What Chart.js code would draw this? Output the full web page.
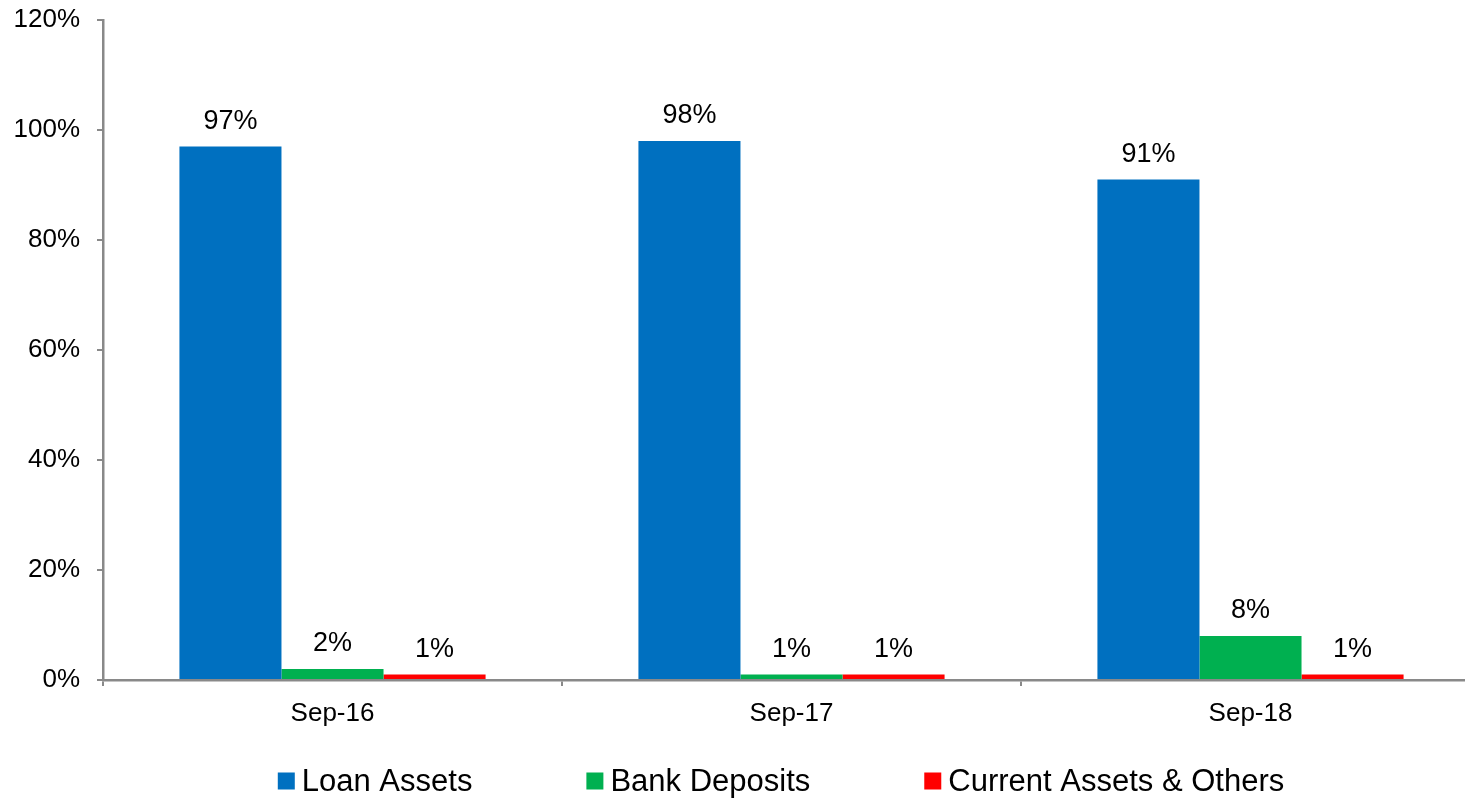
<!DOCTYPE html>
<html>
<head>
<meta charset="utf-8">
<script src="https://cdn.jsdelivr.net/npm/chart.js@4.4.1/dist/chart.umd.min.js"></script>
<style>
  html, body { margin: 0; padding: 0; overflow: hidden; background: #fff; }
  #wrap { position: absolute; left: 0; top: 0; width: 1482px; height: 801px; }
</style>
</head>
<body>
<div id="wrap"><canvas id="assetChart"></canvas></div>
<script>
var categories = ['Sep-16', 'Sep-17', 'Sep-18'];
var loanAssets = [97, 98, 91];
var bankDeposits = [2, 1, 8];
var currentAssets = [1, 1, 1];
var yTicks = [0, 20, 40, 60, 80, 100, 120];

var FONT = "'Liberation Sans', Arial, sans-serif";
var axisGrey = '#898989';

// value labels above each bar
var valueLabels = {
    id: 'valueLabels',
    afterDatasetsDraw: function (chart) {
        var ctx = chart.ctx;
        ctx.save();
        ctx.font = '27px ' + FONT;
        ctx.fillStyle = '#000';
        ctx.textAlign = 'center';
        ctx.textBaseline = 'alphabetic';
        chart.data.datasets.forEach(function (ds, i) {
            chart.getDatasetMeta(i).data.forEach(function (bar, j) {
                ctx.fillText(ds.data[j] + '%', bar.x, bar.y - 18);
            });
        });
        ctx.restore();
    }
};

// legend drawn along the bottom
var bottomLegend = {
    id: 'bottomLegend',
    afterDraw: function (chart) {
        var ctx = chart.ctx;
        var box = 17, gap = 7, spacing = 114, centerX = 781, y = 781;
        ctx.save();
        ctx.font = '31px ' + FONT;
        var widths = chart.data.datasets.map(function (ds) {
            return box + gap + ctx.measureText(ds.label).width;
        });
        var total = widths.reduce(function (a, b) { return a + b; }, 0) + spacing * (widths.length - 1);
        var x = centerX - total / 2;
        ctx.textBaseline = 'middle';
        ctx.textAlign = 'left';
        chart.data.datasets.forEach(function (ds, i) {
            ctx.fillStyle = ds.backgroundColor;
            ctx.fillRect(x, y - box / 2, box, box);
            ctx.fillStyle = '#000';
            ctx.fillText(ds.label, x + box + gap, y + 1);
            x += widths[i] + spacing;
        });
        ctx.restore();
    }
};

var assetChart = new Chart(document.getElementById('assetChart'), {
    type: 'bar',
    data: {
        labels: categories,
        datasets: [
            { label: 'Loan Assets', data: loanAssets, backgroundColor: '#0070C0' },
            { label: 'Bank Deposits', data: bankDeposits, backgroundColor: '#00B050' },
            { label: 'Current Assets & Others', data: currentAssets, backgroundColor: '#FF0000' }
        ]
    },
    options: {
        responsive: true,
        maintainAspectRatio: false,
        animation: false,
        layout: { padding: { top: 20, right: 2, bottom: 71, left: 0 } },
        datasets: { bar: { categoryPercentage: 0.667, barPercentage: 1.0 } },
        plugins: {
            legend: { display: false },
            tooltip: { enabled: false }
        },
        scales: {
            x: {
                afterFit: function (scale) { scale.height = 50; },
                grid: {
                    drawOnChartArea: false,
                    drawTicks: true,
                    tickLength: 6,
                    color: axisGrey,
                    lineWidth: 2,
                    offset: true
                },
                border: { color: axisGrey, width: 2.5 },
                ticks: {
                    color: '#000',
                    font: { family: FONT, size: 26 },
                    padding: 12,
                    maxRotation: 0
                }
            },
            y: {
                min: 0,
                max: 120,
                afterFit: function (scale) {
                    scale.width = 103;
                    scale.paddingTop = 0;
                    scale.paddingBottom = 0;
                },
                afterBuildTicks: function (scale) {
                    scale.ticks = yTicks.map(function (v) { return { value: v }; });
                },
                grid: {
                    drawOnChartArea: false,
                    drawTicks: true,
                    tickLength: 6,
                    color: axisGrey,
                    lineWidth: 2
                },
                border: { color: axisGrey, width: 2.5 },
                ticks: {
                    color: '#000',
                    font: { family: FONT, size: 26 },
                    padding: 17,
                    callback: function (v) { return v + '%'; }
                }
            }
        }
    },
    plugins: [valueLabels, bottomLegend]
});
</script>
</body>
</html>
